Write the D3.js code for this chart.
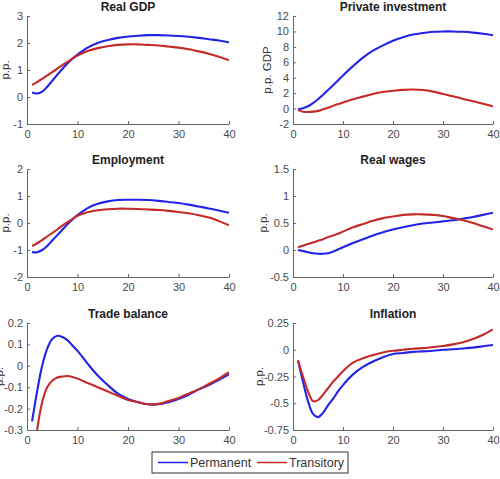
<!DOCTYPE html>
<html><head><meta charset="utf-8">
<script src="https://cdn.jsdelivr.net/npm/d3@7/dist/d3.min.js"></script>
<style>body{margin:0;background:#fff;}svg{display:block;font-family:"Liberation Sans",Arial,sans-serif;}</style>
</head><body><svg id="c" width="500" height="479"></svg>
<script>
const periods = [1,2,3,4,5,6,7,8,9,10,12,14,16,18,20,22,24,26,28,30,32,34,36,38,40];
const xTicks = [0,10,20,30,40];
const titles = ["Real GDP","Private investment","Employment","Real wages","Trade balance","Inflation"];
const yLabels = ["p.p.","p.p. GDP","p.p.","p.p.","p.p.","p.p."];
const yTicksGDP = [-1,0,1,2,3];
const yTicksInv = [-2,0,2,4,6,8,10,12];
const yTicksEmp = [-2,-1,0,1,2];
const yTicksWage = [-0.5,0,0.5,1,1.5];
const yTicksTrade = [-0.3,-0.2,-0.1,0,0.1,0.2];
const yTicksInfl = [-0.75,-0.5,-0.25,0,0.25];
const seriesNames = ["Permanent","Transitory"];

const gdpPerm  = [0.17,0.13,0.2,0.38,0.6,0.83,1.04,1.24,1.42,1.57,1.83,2.0,2.11,2.19,2.24,2.27,2.29,2.29,2.28,2.26,2.23,2.19,2.14,2.09,2.03];
const gdpTrans = [0.45,0.55,0.67,0.8,0.92,1.05,1.18,1.3,1.42,1.53,1.7,1.81,1.88,1.93,1.95,1.95,1.93,1.91,1.87,1.83,1.77,1.69,1.6,1.49,1.36];
const invPerm  = [-0.1,0.05,0.3,0.7,1.2,1.8,2.4,3.0,3.65,4.3,5.5,6.6,7.5,8.2,8.8,9.25,9.6,9.8,9.95,10.0,10.0,9.95,9.85,9.7,9.5];
const invTrans = [-0.2,-0.4,-0.45,-0.4,-0.3,-0.1,0.1,0.35,0.58,0.8,1.2,1.55,1.9,2.15,2.3,2.42,2.47,2.4,2.2,1.9,1.6,1.25,0.95,0.62,0.3];
const empPerm  = [-1.08,-1.08,-1.0,-0.85,-0.65,-0.45,-0.25,-0.05,0.13,0.29,0.55,0.71,0.8,0.85,0.86,0.86,0.85,0.82,0.78,0.74,0.68,0.61,0.54,0.46,0.38];
const empTrans = [-0.85,-0.75,-0.63,-0.5,-0.37,-0.24,-0.1,0.03,0.15,0.27,0.4,0.47,0.51,0.53,0.53,0.52,0.5,0.48,0.45,0.41,0.36,0.29,0.2,0.07,-0.08];
const wagePerm  = [0.0,-0.02,-0.04,-0.06,-0.07,-0.07,-0.06,-0.03,0.01,0.05,0.13,0.2,0.27,0.33,0.38,0.42,0.46,0.49,0.51,0.53,0.55,0.58,0.61,0.65,0.69];
const wageTrans = [0.05,0.08,0.11,0.14,0.17,0.2,0.24,0.27,0.3,0.34,0.42,0.48,0.54,0.59,0.62,0.65,0.66,0.66,0.65,0.63,0.59,0.55,0.5,0.44,0.38];
const tradePerm  = [-0.26,-0.12,0.0,0.08,0.125,0.14,0.135,0.12,0.095,0.07,0.01,-0.045,-0.09,-0.13,-0.155,-0.17,-0.18,-0.18,-0.17,-0.155,-0.135,-0.11,-0.09,-0.065,-0.04];
const tradeTrans = [-0.5,-0.3,-0.17,-0.1,-0.07,-0.055,-0.05,-0.048,-0.052,-0.06,-0.08,-0.1,-0.12,-0.14,-0.16,-0.17,-0.18,-0.178,-0.165,-0.15,-0.13,-0.11,-0.085,-0.06,-0.03];
const inflPerm  = [-0.1,-0.3,-0.48,-0.6,-0.63,-0.59,-0.52,-0.46,-0.39,-0.33,-0.23,-0.16,-0.11,-0.07,-0.04,-0.03,-0.02,-0.015,-0.01,0.0,0.005,0.012,0.02,0.032,0.045];
const inflTrans = [-0.1,-0.25,-0.39,-0.48,-0.47,-0.42,-0.36,-0.3,-0.25,-0.2,-0.12,-0.08,-0.05,-0.025,-0.01,0.0,0.01,0.015,0.025,0.035,0.05,0.07,0.1,0.14,0.19];

const panelTicks = [yTicksGDP,yTicksInv,yTicksEmp,yTicksWage,yTicksTrade,yTicksInfl];
const panelData = [[gdpPerm,gdpTrans],[invPerm,invTrans],[empPerm,empTrans],[wagePerm,wageTrans],[tradePerm,tradeTrans],[inflPerm,inflTrans]];

const colors = ["#2323e6","#c42a2a"];
const cols = [[27,229],[293,493]];
const rows = [[16,124],[169,277],[323,430]];
const ylabX = [5,267,5,263,-1,259];

const svg = d3.select("#c");
const defs = svg.append("defs");

panelTicks.forEach((yt,i)=>{
  const c = cols[i%2], r = rows[Math.floor(i/2)];
  const x = d3.scaleLinear().domain([0,40]).range(c);
  const y = d3.scaleLinear().domain([yt[0],yt[yt.length-1]]).range([r[1],r[0]]);
  const g = svg.append("g");
  defs.append("clipPath").attr("id","clip"+i).append("rect")
    .attr("x",c[0]).attr("y",r[0]).attr("width",c[1]-c[0]).attr("height",r[1]-r[0]);
  panelData[i].forEach((vals,s)=>{
    const line = d3.line().x((d,k)=>x(periods[k])).y(d=>y(d)).curve(d3.curveCatmullRom.alpha(0.5));
    g.append("path").attr("d",line(vals)).attr("fill","none")
      .attr("stroke",colors[s]).attr("stroke-width",2.1).attr("stroke-linejoin","round")
      .attr("clip-path","url(#clip"+i+")");
  });
  const xa = g.append("g").attr("transform",`translate(0,${r[1]})`)
    .call(d3.axisBottom(x).tickValues(xTicks).tickSize(-3).tickSizeOuter(0).tickPadding(6).tickFormat(d=>d));
  const ya = g.append("g").attr("transform",`translate(${c[0]},0)`)
    .call(d3.axisLeft(y).tickValues(yt).tickSize(-3).tickSizeOuter(0).tickPadding(4).tickFormat(d=>String(d)));
  [xa,ya].forEach(a=>{
    a.select(".domain").attr("stroke","#666");
    a.selectAll(".tick line").attr("stroke","#666");
    a.selectAll("text").attr("fill","#4a4a4a").style("font-size","11px").style("font-family","'Liberation Sans',Arial,sans-serif");
  });
  g.append("text").attr("x",(c[0]+c[1])/2).attr("y",r[0]-5).attr("text-anchor","middle")
    .attr("font-weight","bold").attr("font-size","12px").attr("fill","#222").text(titles[i]);
  g.append("text").attr("transform",`translate(${ylabX[i]+4},${(r[0]+r[1])/2}) rotate(-90)`)
    .attr("text-anchor","middle").attr("font-size","11.5px").attr("fill","#333").text(yLabels[i]);
});

const lg = svg.append("g");
lg.append("rect").attr("x",152).attr("y",452).attr("width",196).attr("height",21)
  .attr("fill","#fff").attr("stroke","#333").attr("stroke-width",1);
const legX = [158,257];
seriesNames.forEach((n,s)=>{
  lg.append("line").attr("x1",legX[s]).attr("x2",legX[s]+30).attr("y1",462.5).attr("y2",462.5)
    .attr("stroke",colors[s]).attr("stroke-width",1.5);
  lg.append("text").attr("x",legX[s]+32).attr("y",467).attr("font-size","12.5px").attr("fill","#333").text(n);
});
</script></body></html>
